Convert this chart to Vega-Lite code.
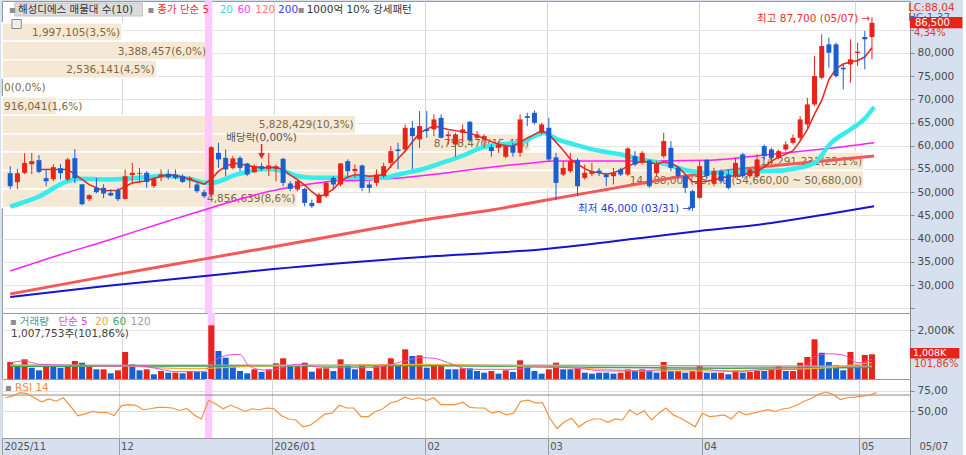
{
"$schema": "https://vega.github.io/schema/vega-lite/v6.json",
"padding": 0,
"background": "#d6e0ee",
"spacing": 0,
"bounds": "flush",
"config": {
  "view": {"fill": "white", "stroke": "#9a9a9a", "strokeWidth": 1},
  "text": {"font": "DejaVu Sans, Noto Sans CJK KR"},
  "axis": {"labelFont": "DejaVu Sans", "labelOverlap": false, "labelSeparation": 0}
},
"datasets": {
"d": [
{"i":0,"o":54100,"h":55600,"l":50650,"c":51300,"v":694,"u":1,"r":66.7},
{"i":1,"o":52160,"h":55000,"l":50650,"c":54100,"v":560,"u":0,"r":68.7},
{"i":2,"o":54170,"h":58400,"l":53900,"c":56320,"v":804,"u":1,"r":72.9},
{"i":3,"o":56040,"h":58480,"l":53880,"c":56690,"v":461,"u":0,"r":71.7},
{"i":4,"o":56900,"h":57980,"l":54100,"c":54380,"v":355,"u":0,"r":66.7},
{"i":5,"o":53020,"h":54960,"l":51300,"c":52370,"v":560,"u":1,"r":61.7},
{"i":6,"o":52800,"h":56040,"l":52370,"c":55400,"v":490,"u":0,"r":65.4},
{"i":7,"o":55180,"h":56040,"l":52800,"c":54100,"v":461,"u":0,"r":62.5},
{"i":8,"o":52740,"h":57400,"l":52370,"c":57060,"v":560,"u":1,"r":66.7},
{"i":9,"o":57340,"h":59280,"l":51940,"c":53020,"v":735,"u":1,"r":56.2},
{"i":10,"o":51700,"h":51790,"l":47190,"c":47410,"v":665,"u":0,"r":44.6},
{"i":11,"o":48490,"h":49570,"l":48060,"c":49350,"v":560,"u":1,"r":47.1},
{"i":12,"o":50930,"h":53090,"l":49780,"c":50000,"v":396,"u":0,"r":50},
{"i":13,"o":50930,"h":51730,"l":48710,"c":49720,"v":396,"u":1,"r":48.7},
{"i":14,"o":49850,"h":50650,"l":49140,"c":49290,"v":232,"u":0,"r":48.7},
{"i":15,"o":50430,"h":50930,"l":48060,"c":48490,"v":355,"u":1,"r":45},
{"i":16,"o":48550,"h":54900,"l":48420,"c":53450,"v":1102,"u":1,"r":57.1},
{"i":17,"o":53670,"h":56320,"l":52000,"c":54170,"v":600,"u":0,"r":58.3},
{"i":18,"o":53950,"h":55240,"l":52000,"c":54100,"v":355,"u":0,"r":57.5},
{"i":19,"o":54170,"h":54530,"l":50930,"c":52220,"v":396,"u":1,"r":52.1},
{"i":20,"o":51300,"h":53090,"l":50930,"c":52870,"v":192,"u":0,"r":53.3},
{"i":21,"o":53300,"h":54900,"l":52370,"c":53820,"v":326,"u":1,"r":55},
{"i":22,"o":53950,"h":54900,"l":52740,"c":53240,"v":258,"u":0,"r":55},
{"i":23,"o":53820,"h":54900,"l":52740,"c":53090,"v":258,"u":1,"r":54.2},
{"i":24,"o":53450,"h":53820,"l":52000,"c":52220,"v":232,"u":0,"r":51.2},
{"i":25,"o":52740,"h":53450,"l":50930,"c":53090,"v":326,"u":1,"r":53.7},
{"i":26,"o":51660,"h":52000,"l":49850,"c":50220,"v":290,"u":0,"r":45.8},
{"i":27,"o":50000,"h":50580,"l":48770,"c":49140,"v":290,"u":0,"r":40.8},
{"i":28,"o":49500,"h":59930,"l":49140,"c":59710,"v":2190,"u":1,"r":63.7},
{"i":29,"o":58480,"h":60640,"l":55240,"c":57060,"v":1142,"u":0,"r":59.2},
{"i":30,"o":57400,"h":59210,"l":53450,"c":54900,"v":870,"u":0,"r":53.3},
{"i":31,"o":55240,"h":57770,"l":54900,"c":57270,"v":490,"u":0,"r":57.5},
{"i":32,"o":57400,"h":57770,"l":54530,"c":55240,"v":326,"u":0,"r":54.2},
{"i":33,"o":56190,"h":56320,"l":53450,"c":53820,"v":232,"u":0,"r":50},
{"i":34,"o":54320,"h":55970,"l":54170,"c":55610,"v":396,"u":1,"r":53.3},
{"i":35,"o":55610,"h":56320,"l":54530,"c":55030,"v":290,"u":0,"r":52.1},
{"i":36,"o":55030,"h":58480,"l":53450,"c":55760,"v":396,"u":1,"r":54.2},
{"i":37,"o":55030,"h":55970,"l":52370,"c":55610,"v":640,"u":1,"r":53.3},
{"i":38,"o":57190,"h":57400,"l":51300,"c":52000,"v":845,"u":1,"r":45},
{"i":39,"o":51880,"h":52370,"l":50220,"c":50710,"v":530,"u":0,"r":40.8},
{"i":40,"o":50580,"h":52740,"l":50220,"c":52370,"v":560,"u":1,"r":39.6},
{"i":41,"o":50710,"h":50930,"l":46980,"c":47690,"v":665,"u":1,"r":31.2},
{"i":42,"o":47690,"h":48420,"l":46610,"c":46980,"v":300,"u":0,"r":33.3},
{"i":43,"o":47690,"h":49850,"l":47690,"c":49500,"v":437,"u":1,"r":39.6},
{"i":44,"o":49140,"h":52370,"l":48770,"c":52000,"v":437,"u":1,"r":46.7},
{"i":45,"o":53090,"h":53450,"l":50580,"c":51660,"v":326,"u":0,"r":47.9},
{"i":46,"o":51660,"h":56320,"l":51300,"c":56190,"v":804,"u":1,"r":57.5},
{"i":47,"o":56690,"h":57060,"l":53090,"c":54530,"v":600,"u":0,"r":54.2},
{"i":48,"o":54530,"h":55970,"l":53090,"c":55030,"v":396,"u":0,"r":54.2},
{"i":49,"o":55760,"h":55970,"l":50220,"c":50930,"v":600,"u":1,"r":43.7},
{"i":50,"o":51660,"h":52370,"l":49850,"c":50930,"v":326,"u":0,"r":43.7},
{"i":51,"o":52000,"h":54900,"l":51300,"c":53820,"v":560,"u":1,"r":50},
{"i":52,"o":53450,"h":56320,"l":53090,"c":55610,"v":600,"u":1,"r":53.3},
{"i":53,"o":56320,"h":59930,"l":55240,"c":58850,"v":845,"u":1,"r":60.4},
{"i":54,"o":59210,"h":60640,"l":55000,"c":58850,"v":530,"u":0,"r":62.5},
{"i":55,"o":59210,"h":64600,"l":58850,"c":63880,"v":1212,"u":1,"r":67.5},
{"i":56,"o":63880,"h":65320,"l":55000,"c":62090,"v":938,"u":0,"r":64.6},
{"i":57,"o":61380,"h":67480,"l":59570,"c":64250,"v":965,"u":1,"r":66.7},
{"i":58,"o":63530,"h":67480,"l":61720,"c":63160,"v":461,"u":0,"r":63.3},
{"i":59,"o":63530,"h":66770,"l":62090,"c":65690,"v":530,"u":1,"r":66.7},
{"i":60,"o":66030,"h":66770,"l":61580,"c":61720,"v":570,"u":1,"r":58.3},
{"i":61,"o":62090,"h":63160,"l":60290,"c":62450,"v":396,"u":0,"r":58.3},
{"i":62,"o":60290,"h":62800,"l":57640,"c":62450,"v":396,"u":0,"r":58.3},
{"i":63,"o":62800,"h":64600,"l":60640,"c":63530,"v":437,"u":1,"r":61.2},
{"i":64,"o":65170,"h":65320,"l":61010,"c":61160,"v":437,"u":0,"r":55},
{"i":65,"o":61720,"h":63160,"l":61380,"c":62450,"v":326,"u":0,"r":54.2},
{"i":66,"o":61380,"h":62450,"l":59570,"c":62090,"v":258,"u":0,"r":54.2},
{"i":67,"o":59710,"h":60290,"l":57640,"c":58850,"v":326,"u":1,"r":47.9},
{"i":68,"o":59570,"h":61010,"l":58490,"c":60290,"v":218,"u":0,"r":50},
{"i":69,"o":57640,"h":60290,"l":57270,"c":59930,"v":355,"u":1,"r":45.8},
{"i":70,"o":59930,"h":60640,"l":57640,"c":58490,"v":286,"u":0,"r":47.9},
{"i":71,"o":58490,"h":66770,"l":57640,"c":65690,"v":762,"u":1,"r":62.5},
{"i":72,"o":66400,"h":67110,"l":64240,"c":66030,"v":461,"u":0,"r":63.7},
{"i":73,"o":67110,"h":67620,"l":64600,"c":64960,"v":326,"u":0,"r":60.4},
{"i":74,"o":62800,"h":64960,"l":62450,"c":64600,"v":218,"u":0,"r":60.4},
{"i":75,"o":63880,"h":66030,"l":56690,"c":57060,"v":396,"u":1,"r":41.7},
{"i":76,"o":57500,"h":58480,"l":48270,"c":52000,"v":665,"u":1,"r":29.2},
{"i":77,"o":53820,"h":56690,"l":53450,"c":55240,"v":396,"u":0,"r":37.5},
{"i":78,"o":54530,"h":58480,"l":54170,"c":56690,"v":396,"u":0,"r":41.7},
{"i":79,"o":56970,"h":57320,"l":49140,"c":51300,"v":461,"u":1,"r":31.2},
{"i":80,"o":53090,"h":55970,"l":52740,"c":54170,"v":258,"u":0,"r":37.5},
{"i":81,"o":53950,"h":56320,"l":53450,"c":54530,"v":218,"u":0,"r":40.8},
{"i":82,"o":54680,"h":55240,"l":53450,"c":54170,"v":258,"u":0,"r":40.8},
{"i":83,"o":53820,"h":54170,"l":51300,"c":53240,"v":258,"u":0,"r":36.7},
{"i":84,"o":53450,"h":55240,"l":51660,"c":54170,"v":218,"u":0,"r":40.8},
{"i":85,"o":54900,"h":55240,"l":53450,"c":53820,"v":258,"u":1,"r":39.6},
{"i":86,"o":53820,"h":59710,"l":53450,"c":59430,"v":396,"u":1,"r":52.1},
{"i":87,"o":57770,"h":58850,"l":55610,"c":55970,"v":326,"u":0,"r":45.8},
{"i":88,"o":56320,"h":58850,"l":55970,"c":58480,"v":396,"u":1,"r":50.8},
{"i":89,"o":56840,"h":57060,"l":50930,"c":51300,"v":355,"u":0,"r":39.6},
{"i":90,"o":54100,"h":56690,"l":53450,"c":56040,"v":258,"u":0,"r":47.9},
{"i":91,"o":57770,"h":62800,"l":57400,"c":61010,"v":694,"u":1,"r":54.2},
{"i":92,"o":59570,"h":61010,"l":54530,"c":55240,"v":326,"u":0,"r":45.8},
{"i":93,"o":55240,"h":55610,"l":53090,"c":53450,"v":326,"u":1,"r":41.7},
{"i":94,"o":53450,"h":53820,"l":49850,"c":50930,"v":258,"u":0,"r":36.7},
{"i":95,"o":50220,"h":50580,"l":46000,"c":46610,"v":326,"u":1,"r":31.2},
{"i":96,"o":48770,"h":56690,"l":48640,"c":55610,"v":560,"u":1,"r":47.9},
{"i":97,"o":56970,"h":57060,"l":52740,"c":53450,"v":258,"u":0,"r":43.7},
{"i":98,"o":52000,"h":55240,"l":51300,"c":54530,"v":258,"u":0,"r":44.6},
{"i":99,"o":54530,"h":54900,"l":52000,"c":52370,"v":258,"u":1,"r":45.8},
{"i":100,"o":53820,"h":54900,"l":50580,"c":50930,"v":192,"u":0,"r":40.8},
{"i":101,"o":53450,"h":57400,"l":53090,"c":56320,"v":355,"u":1,"r":50},
{"i":102,"o":58140,"h":58480,"l":53090,"c":53450,"v":258,"u":0,"r":45.8},
{"i":103,"o":53450,"h":55240,"l":53090,"c":54900,"v":290,"u":1,"r":47.9},
{"i":104,"o":53450,"h":58140,"l":53090,"c":57060,"v":326,"u":1,"r":50},
{"i":105,"o":59930,"h":60290,"l":57060,"c":57770,"v":326,"u":0,"r":52.1},
{"i":106,"o":59210,"h":59570,"l":56690,"c":57400,"v":400,"u":1,"r":50},
{"i":107,"o":57400,"h":59210,"l":57060,"c":58850,"v":530,"u":1,"r":53},
{"i":108,"o":59210,"h":61010,"l":58850,"c":60290,"v":326,"u":0,"r":54.2},
{"i":109,"o":60640,"h":62450,"l":60290,"c":61720,"v":326,"u":1,"r":57.5},
{"i":110,"o":61720,"h":66400,"l":61010,"c":65690,"v":665,"u":1,"r":62.5},
{"i":111,"o":64600,"h":70350,"l":63880,"c":68920,"v":898,"u":1,"r":65.8},
{"i":112,"o":68920,"h":79350,"l":68560,"c":75030,"v":1620,"u":1,"r":70.8},
{"i":113,"o":74670,"h":84030,"l":74320,"c":81510,"v":1073,"u":0,"r":73.7},
{"i":114,"o":81870,"h":83310,"l":76830,"c":80070,"v":694,"u":0,"r":70.8},
{"i":115,"o":81870,"h":82230,"l":74670,"c":75030,"v":560,"u":0,"r":64.6},
{"i":116,"o":76830,"h":77550,"l":72160,"c":76480,"v":355,"u":0,"r":66.7},
{"i":117,"o":77550,"h":82950,"l":73590,"c":78630,"v":1102,"u":1,"r":67.5},
{"i":118,"o":80000,"h":82230,"l":77190,"c":80280,"v":560,"u":0,"r":68.7},
{"i":119,"o":83450,"h":84750,"l":76480,"c":82950,"v":980,"u":1,"r":70},
{"i":120,"o":83450,"h":87700,"l":78630,"c":86500,"v":1008,"u":1,"r":72.9}
],
"ma": [
{"k":"200","i":0,"p":27420},{"k":"200","i":13.3,"p":29790},{"k":"200","i":27.1,"p":31950},{"k":"200","i":36.7,"p":33450},{"k":"200","i":57.4,"p":36040},{"k":"200","i":74.6,"p":37760},{"k":"200","i":89,"p":40350},{"k":"200","i":96,"p":41640},{"k":"200","i":106,"p":43360},{"k":"200","i":113.9,"p":45300},{"k":"200","i":120.3,"p":46950},
{"k":"120","i":0,"p":28065},{"k":"120","i":13.3,"p":31858},{"k":"120","i":27.1,"p":35630},{"k":"120","i":40.9,"p":39420},{"k":"120","i":58.8,"p":44335},{"k":"120","i":67,"p":46166},{"k":"120","i":73.9,"p":48106},{"k":"120","i":83.2,"p":50628},{"k":"120","i":92.2,"p":53070},{"k":"120","i":101.5,"p":54940},{"k":"120","i":110.7,"p":56360},{"k":"120","i":120.3,"p":57800},
{"k":"60","i":0,"p":33021},{"k":"60","i":6.4,"p":36254},{"k":"60","i":13.3,"p":39486},{"k":"60","i":22,"p":43796},{"k":"60","i":28,"p":46662},{"k":"60","i":36.3,"p":50261},{"k":"60","i":40,"p":51339},{"k":"60","i":45.4,"p":52416},{"k":"60","i":50,"p":52632},{"k":"60","i":54.6,"p":53127},{"k":"60","i":59.2,"p":53860},{"k":"60","i":66,"p":55218},{"k":"60","i":73,"p":56360},{"k":"60","i":75.7,"p":56726},{"k":"60","i":87.7,"p":56726},{"k":"60","i":96.9,"p":56877},{"k":"60","i":106,"p":58170},{"k":"60","i":112.9,"p":59248},{"k":"60","i":120.3,"p":60670},
{"k":"20","i":0,"p":46870},{"k":"20","i":2.3,"p":48060},{"k":"20","i":4.1,"p":49140},{"k":"20","i":5.1,"p":50000},{"k":"20","i":7.4,"p":52010},{"k":"20","i":9.6,"p":52910},{"k":"20","i":13.3,"p":52740},{"k":"20","i":17.9,"p":53090},{"k":"20","i":21.6,"p":53560},{"k":"20","i":25.3,"p":52740},{"k":"20","i":27.1,"p":52010},{"k":"20","i":28.2,"p":52050},{"k":"20","i":31.6,"p":53850},{"k":"20","i":35.4,"p":55000},{"k":"20","i":38.1,"p":54570},{"k":"20","i":39.9,"p":53490},{"k":"20","i":42.2,"p":53130},{"k":"20","i":48.6,"p":53130},{"k":"20","i":51.9,"p":53130},{"k":"20","i":54.6,"p":54030},{"k":"20","i":57.4,"p":54940},{"k":"20","i":60.2,"p":56360},{"k":"20","i":62.9,"p":57800},{"k":"20","i":65.7,"p":59590},{"k":"20","i":68.4,"p":60320},{"k":"20","i":71.2,"p":60670},{"k":"20","i":73,"p":62110},{"k":"20","i":74.3,"p":62760},{"k":"20","i":76.2,"p":61400},{"k":"20","i":78.5,"p":60320},{"k":"20","i":82.2,"p":58880},{"k":"20","i":84.9,"p":58170},{"k":"20","i":87.7,"p":57090},{"k":"20","i":91.4,"p":56010},{"k":"20","i":94.6,"p":54570},{"k":"20","i":96.9,"p":54210},{"k":"20","i":99.6,"p":54210},{"k":"20","i":103.3,"p":54570},{"k":"20","i":106,"p":54570},{"k":"20","i":109.7,"p":55220},{"k":"20","i":112,"p":56300},{"k":"20","i":114.3,"p":60600},{"k":"20","i":117.1,"p":63620},{"k":"20","i":118.9,"p":65710},{"k":"20","i":120.3,"p":68360},
{"k":"5","i":4,"p":54900},{"k":"5","i":8,"p":54900},{"k":"5","i":9,"p":53820},{"k":"5","i":11,"p":51620},{"k":"5","i":13,"p":50320},{"k":"5","i":15,"p":50430},{"k":"5","i":16,"p":51190},{"k":"5","i":17,"p":52000},{"k":"5","i":19,"p":52480},{"k":"5","i":20,"p":53020},{"k":"5","i":22,"p":53780},{"k":"5","i":23,"p":53670},{"k":"5","i":25,"p":52800},{"k":"5","i":27,"p":51730},{"k":"5","i":28,"p":52800},{"k":"5","i":29,"p":54530},{"k":"5","i":30,"p":55500},{"k":"5","i":31,"p":56260},{"k":"5","i":32,"p":56150},{"k":"5","i":33,"p":55720},{"k":"5","i":35,"p":55290},{"k":"5","i":37,"p":55400},{"k":"5","i":38,"p":54900},{"k":"5","i":39,"p":53670},{"k":"5","i":40,"p":52700},{"k":"5","i":41,"p":51510},{"k":"5","i":42,"p":50110},{"k":"5","i":43,"p":48920},{"k":"5","i":44,"p":49680},{"k":"5","i":45,"p":50650},{"k":"5","i":46,"p":52370},{"k":"5","i":47,"p":53240},{"k":"5","i":48,"p":53780},{"k":"5","i":49,"p":53670},{"k":"5","i":50,"p":53450},{"k":"5","i":51,"p":53560},{"k":"5","i":52,"p":53820},{"k":"5","i":53,"p":55610},{"k":"5","i":54,"p":57230},{"k":"5","i":55,"p":58850},{"k":"5","i":56,"p":60800},{"k":"5","i":57,"p":62740},{"k":"5","i":58,"p":63600},{"k":"5","i":59,"p":64240},{"k":"5","i":60,"p":63920},{"k":"5","i":61,"p":63530},{"k":"5","i":62,"p":63270},{"k":"5","i":63,"p":63050},{"k":"5","i":64,"p":62730},{"k":"5","i":65,"p":62190},{"k":"5","i":66,"p":61550},{"k":"5","i":67,"p":60900},{"k":"5","i":68,"p":60360},{"k":"5","i":69,"p":60030},{"k":"5","i":70,"p":59930},{"k":"5","i":71,"p":60790},{"k":"5","i":72,"p":61660},{"k":"5","i":73,"p":62450},{"k":"5","i":74,"p":63270},{"k":"5","i":75,"p":62450},{"k":"5","i":76,"p":60790},{"k":"5","i":77,"p":59060},{"k":"5","i":78,"p":57120},{"k":"5","i":79,"p":56040},{"k":"5","i":80,"p":55070},{"k":"5","i":81,"p":54420},{"k":"5","i":82,"p":54170},{"k":"5","i":83,"p":53880},{"k":"5","i":84,"p":54210},{"k":"5","i":85,"p":54750},{"k":"5","i":86,"p":55610},{"k":"5","i":87,"p":56260},{"k":"5","i":88,"p":56690},{"k":"5","i":89,"p":56470},{"k":"5","i":90,"p":56040},{"k":"5","i":91,"p":56580},{"k":"5","i":92,"p":56260},{"k":"5","i":93,"p":55400},{"k":"5","i":94,"p":53880},{"k":"5","i":95,"p":52270},{"k":"5","i":96,"p":52270},{"k":"5","i":97,"p":52370},{"k":"5","i":98,"p":52700},{"k":"5","i":99,"p":53020},{"k":"5","i":100,"p":53450},{"k":"5","i":101,"p":53560},{"k":"5","i":102,"p":53820},{"k":"5","i":103,"p":54100},{"k":"5","i":104,"p":54530},{"k":"5","i":105,"p":55400},{"k":"5","i":106,"p":56690},{"k":"5","i":107,"p":57550},{"k":"5","i":108,"p":58200},{"k":"5","i":109,"p":58960},{"k":"5","i":110,"p":61010},{"k":"5","i":111,"p":63490},{"k":"5","i":112,"p":66830},{"k":"5","i":113,"p":69770},{"k":"5","i":114,"p":74280},{"k":"5","i":115,"p":76650},{"k":"5","i":116,"p":77620},{"k":"5","i":117,"p":78050},{"k":"5","i":118,"p":78380},{"k":"5","i":119,"p":79130},{"k":"5","i":120,"p":81140}
],
"vma": [
{"k":"120","i":0,"v":560},{"k":"120","i":60,"v":560},{"k":"120","i":120,"v":520},
{"k":"60","i":0,"v":520},{"k":"60","i":30,"v":530},{"k":"60","i":60,"v":540},{"k":"60","i":80,"v":480},{"k":"60","i":100,"v":440},{"k":"60","i":120,"v":470},
{"k":"20","i":0,"v":571},{"k":"20","i":15,"v":530},{"k":"20","i":25,"v":420},{"k":"20","i":35,"v":530},{"k":"20","i":45,"v":560},{"k":"20","i":58,"v":600},{"k":"20","i":65,"v":571},{"k":"20","i":72,"v":530},{"k":"20","i":80,"v":430},{"k":"20","i":90,"v":326},{"k":"20","i":100,"v":330},{"k":"20","i":106,"v":396},{"k":"20","i":112,"v":430},{"k":"20","i":116,"v":530},{"k":"20","i":120,"v":665},
{"k":"5","i":0,"v":665},{"k":"5","i":2,"v":734},{"k":"5","i":4,"v":600},{"k":"5","i":9,"v":560},{"k":"5","i":13,"v":530},{"k":"5","i":18,"v":530},{"k":"5","i":21,"v":396},{"k":"5","i":23,"v":300},{"k":"5","i":27,"v":300},{"k":"5","i":28,"v":666},{"k":"5","i":29,"v":848},{"k":"5","i":30,"v":956},{"k":"5","i":31,"v":996},{"k":"5","i":32,"v":1004},{"k":"5","i":33,"v":612},{"k":"5","i":34,"v":430},{"k":"5","i":36,"v":355},{"k":"5","i":40,"v":600},{"k":"5","i":43,"v":490},{"k":"5","i":45,"v":461},{"k":"5","i":50,"v":461},{"k":"5","i":55,"v":735},{"k":"5","i":57,"v":870},{"k":"5","i":59,"v":845},{"k":"5","i":61,"v":665},{"k":"5","i":64,"v":396},{"k":"5","i":70,"v":396},{"k":"5","i":73,"v":490},{"k":"5","i":78,"v":461},{"k":"5","i":83,"v":326},{"k":"5","i":87,"v":326},{"k":"5","i":92,"v":396},{"k":"5","i":96,"v":396},{"k":"5","i":101,"v":300},{"k":"5","i":106,"v":396},{"k":"5","i":110,"v":396},{"k":"5","i":111,"v":600},{"k":"5","i":112,"v":900},{"k":"5","i":113,"v":1000},{"k":"5","i":114,"v":1032},{"k":"5","i":116,"v":980},{"k":"5","i":117,"v":804},{"k":"5","i":118,"v":665},{"k":"5","i":120,"v":804}
],
"vp": [
{"lo":82520,"hi":86500,"mid":84510,"pct":3.5,"t":"1,997,105(3,5%)"},
{"lo":78540,"hi":82520,"mid":80530,"pct":6.0,"t":"3,388,457(6,0%)"},
{"lo":74560,"hi":78540,"mid":76550,"pct":4.5,"t":"2,536,141(4,5%)"},
{"lo":70580,"hi":74560,"mid":72570,"pct":0,"t":"0(0,0%)"},
{"lo":66600,"hi":70580,"mid":68590,"pct":1.6,"t":"916,041(1,6%)"},
{"lo":62620,"hi":66600,"mid":64610,"pct":10.3,"t":"5,828,429(10,3%)"},
{"lo":58640,"hi":62620,"mid":60630,"pct":15.4,"t":"8,758,470(15,4%)"},
{"lo":54660,"hi":58640,"mid":56650,"pct":25.1,"t":"14,291,231(25,1%)"},
{"lo":50680,"hi":54660,"mid":52670,"pct":25.1,"t":"14,288,007(25,1%)(54,660,00 ~ 50,680,00)"},
{"lo":46700,"hi":50680,"mid":48690,"pct":8.6,"t":"4,856,639(8,6%)"}
]
},
"vconcat": [
{
 "width": 908, "height": 312,
 "resolve": {"scale": {"x": "independent"}},
 "layer": [
  {"data": {"name": "vp"}, "transform": [{"filter": "datum.pct > 0"}],
   "mark": {"type": "rect", "fill": "#f5e8d5", "stroke": "white", "strokeWidth": 1.5},
   "encoding": {
     "x": {"field": "pct", "type": "quantitative", "scale": {"domain": [0, 26.44], "nice": false, "zero": true}, "axis": null},
     "x2": {"datum": 0},
     "y": {"field": "hi", "type": "quantitative", "scale": {"domain": [23966, 91206], "nice": false, "zero": false},
           "axis": {"orient": "right", "values": [25000,30000,35000,40000,45000,50000,55000,60000,65000,70000,75000,80000,85000],
             "tickCount": 13,
             "labelExpr": "datum.value < 28000 || datum.value > 82000 ? '' : format(datum.value, ',')",
             "grid": true, "gridColor": "#e4e4e4", "tickSize": 4, "tickColor": "#8a8a8a", "domainColor": "#8a8a8a",
             "labelColor": "#4a4a4a", "labelFontSize": 10.5, "labelPadding": 3, "labelOverlap": false, "labelSeparation": 0, "labelFlush": false, "title": null}},
     "y2": {"field": "lo"}
   }},
  {"data": {"values": [{}]}, "mark": {"type": "rect", "fill": "#ffc8ff"},
   "encoding": {"x": {"datum": 27.5, "type": "quantitative", "scale": {"domain": [-0.45, 124.6], "nice": false, "zero": false}, "axis": null}, "x2": {"datum": 28.5}}},
  {
   "data": {"name": "vp"},
   "layer": [
    {"transform": [{"filter": "datum.pct >= 2.5"}],
     "mark": {"type": "text", "align": "right", "baseline": "middle", "dx": -2, "dy": 1, "fontSize": 10.5, "color": "#7d6a44"},
     "encoding": {
       "x": {"field": "pct", "type": "quantitative", "scale": {"domain": [0, 26.44], "nice": false, "zero": true}, "axis": null},
       "y": {"field": "mid", "type": "quantitative", "scale": {"domain": [23966, 91206], "nice": false, "zero": false}},
       "text": {"field": "t"}
     }},
    {"transform": [{"filter": "datum.pct < 2.5"}],
     "mark": {"type": "text", "align": "left", "baseline": "middle", "dx": 2, "dy": 1, "fontSize": 10.5, "color": "#7d6a44"},
     "encoding": {
       "x": {"datum": 0, "type": "quantitative", "scale": {"domain": [0, 26.44], "nice": false, "zero": true}, "axis": null},
       "y": {"field": "mid", "type": "quantitative", "scale": {"domain": [23966, 91206], "nice": false, "zero": false}},
       "text": {"field": "t"}
     }}
   ]
  },
  {
   "layer": [
    {"data": {"name": "ma"}, "transform": [{"filter": "datum.k == '200'"}],
     "mark": {"type": "line", "color": "#1414d2", "strokeWidth": 2, "interpolate": "monotone"},
     "encoding": {"x": {"field": "i", "type": "quantitative", "scale": {"domain": [-0.45, 124.6], "nice": false, "zero": false},
             "axis": {"values": [15.6, 36.7, 57.8, 74.7, 95.9, 117.6], "tickCount": 6, "grid": true, "gridColor": "#d4d4d4", "labels": false, "ticks": false, "domain": false, "title": null}},
       "y": {"field": "p", "type": "quantitative", "scale": {"domain": [23966, 91206], "nice": false, "zero": false}}}},
    {"data": {"name": "ma"}, "transform": [{"filter": "datum.k == '120'"}],
     "mark": {"type": "line", "color": "#f45858", "strokeWidth": 3, "interpolate": "monotone"},
     "encoding": {"x": {"field": "i", "type": "quantitative", "scale": {"domain": [-0.45, 124.6], "nice": false, "zero": false}},
       "y": {"field": "p", "type": "quantitative", "scale": {"domain": [23966, 91206], "nice": false, "zero": false}}}},
    {"data": {"name": "ma"}, "transform": [{"filter": "datum.k == '60'"}],
     "mark": {"type": "line", "color": "#ff1eff", "strokeWidth": 1.5, "interpolate": "monotone"},
     "encoding": {"x": {"field": "i", "type": "quantitative", "scale": {"domain": [-0.45, 124.6], "nice": false, "zero": false}},
       "y": {"field": "p", "type": "quantitative", "scale": {"domain": [23966, 91206], "nice": false, "zero": false}}}},
    {"data": {"name": "ma"}, "transform": [{"filter": "datum.k == '20'"}],
     "mark": {"type": "line", "color": "#36ecec", "strokeWidth": 4.5, "interpolate": "monotone"},
     "encoding": {"x": {"field": "i", "type": "quantitative", "scale": {"domain": [-0.45, 124.6], "nice": false, "zero": false}},
       "y": {"field": "p", "type": "quantitative", "scale": {"domain": [23966, 91206], "nice": false, "zero": false}}}},
    {"data": {"name": "ma"}, "transform": [{"filter": "datum.k == '5'"}],
     "mark": {"type": "line", "color": "#e8231a", "strokeWidth": 1.5},
     "encoding": {"x": {"field": "i", "type": "quantitative", "scale": {"domain": [-0.45, 124.6], "nice": false, "zero": false}},
       "y": {"field": "p", "type": "quantitative", "scale": {"domain": [23966, 91206], "nice": false, "zero": false}}}},
    {"data": {"name": "d"},
     "mark": {"type": "rule", "strokeWidth": 1},
     "encoding": {
       "x": {"field": "i", "type": "quantitative", "scale": {"domain": [-0.45, 124.6], "nice": false, "zero": false}},
       "y": {"field": "l", "type": "quantitative", "scale": {"domain": [23966, 91206], "nice": false, "zero": false}},
       "y2": {"field": "h"},
       "color": {"condition": {"test": "datum.c >= datum.o", "value": "#e8231a"}, "value": "#1a5fd0"}
     }},
    {"data": {"name": "d"},
     "mark": {"type": "bar", "width": 5},
     "encoding": {
       "x": {"field": "i", "type": "quantitative", "scale": {"domain": [-0.45, 124.6], "nice": false, "zero": false}},
       "y": {"field": "o", "type": "quantitative", "scale": {"domain": [23966, 91206], "nice": false, "zero": false}},
       "y2": {"field": "c"},
       "color": {"condition": {"test": "datum.c >= datum.o", "value": "#e8231a"}, "value": "#1a5fd0"}
     }},
    {"data": {"values": [{}]}, "mark": {"type": "rect", "fill": "#dcdcdc", "stroke": "#c2c2c2", "strokeWidth": 1},
     "encoding": {"x": {"datum": 0.65, "type": "quantitative", "scale": {"domain": [-0.45, 124.6], "nice": false, "zero": false}}, "x2": {"datum": 18.42},
       "y": {"datum": 90775, "type": "quantitative", "scale": {"domain": [23966, 91206], "nice": false, "zero": false}}, "y2": {"datum": 87974}}},
    {"data": {"values": [{}]}, "mark": {"type": "rect", "fill": "#eeeeee", "stroke": "#8a8a8a", "strokeWidth": 1},
     "encoding": {"x": {"datum": 0.23, "type": "quantitative", "scale": {"domain": [-0.45, 124.6], "nice": false, "zero": false}}, "x2": {"datum": 1.54},
       "y": {"datum": 87219, "type": "quantitative", "scale": {"domain": [23966, 91206], "nice": false, "zero": false}}, "y2": {"datum": 85280}}},
    {"data": {"values": [{}]}, "mark": {"type": "text", "text": "▪", "align": "left", "baseline": "middle", "fontSize": 10, "color": "#8c8c8c"},
     "encoding": {"x": {"datum": -0.17, "type": "quantitative", "scale": {"domain": [-0.45, 124.6], "nice": false, "zero": false}},
       "y": {"datum": 89374, "type": "quantitative", "scale": {"domain": [23966, 91206], "nice": false, "zero": false}}}},
    {"data": {"values": [{}]}, "mark": {"type": "text", "text": "해성디에스 매물대 수(10)", "align": "left", "baseline": "middle", "fontSize": 10.5, "color": "#333333"},
     "encoding": {"x": {"datum": 1.07, "type": "quantitative", "scale": {"domain": [-0.45, 124.6], "nice": false, "zero": false}},
       "y": {"datum": 89374, "type": "quantitative", "scale": {"domain": [23966, 91206], "nice": false, "zero": false}}}},
    {"data": {"values": [{}]}, "mark": {"type": "text", "text": "▪", "align": "left", "baseline": "middle", "fontSize": 10, "color": "#8c8c8c"},
     "encoding": {"x": {"datum": 19.1, "type": "quantitative", "scale": {"domain": [-0.45, 124.6], "nice": false, "zero": false}},
       "y": {"datum": 89374, "type": "quantitative", "scale": {"domain": [23966, 91206], "nice": false, "zero": false}}}},
    {"data": {"values": [{}]}, "mark": {"type": "text", "text": "종가 단순 5", "align": "left", "baseline": "middle", "fontSize": 10.5, "color": "#f03030"},
     "encoding": {"x": {"datum": 20.48, "type": "quantitative", "scale": {"domain": [-0.45, 124.6], "nice": false, "zero": false}},
       "y": {"datum": 89374, "type": "quantitative", "scale": {"domain": [23966, 91206], "nice": false, "zero": false}}}},
    {"data": {"values": [{}]}, "mark": {"type": "text", "text": "20", "align": "left", "baseline": "middle", "fontSize": 10.5, "color": "#35e0e0"},
     "encoding": {"x": {"datum": 29.16, "type": "quantitative", "scale": {"domain": [-0.45, 124.6], "nice": false, "zero": false}},
       "y": {"datum": 89374, "type": "quantitative", "scale": {"domain": [23966, 91206], "nice": false, "zero": false}}}},
    {"data": {"values": [{}]}, "mark": {"type": "text", "text": "60", "align": "left", "baseline": "middle", "fontSize": 10.5, "color": "#ff40ff"},
     "encoding": {"x": {"datum": 31.64, "type": "quantitative", "scale": {"domain": [-0.45, 124.6], "nice": false, "zero": false}},
       "y": {"datum": 89374, "type": "quantitative", "scale": {"domain": [23966, 91206], "nice": false, "zero": false}}}},
    {"data": {"values": [{}]}, "mark": {"type": "text", "text": "120", "align": "left", "baseline": "middle", "fontSize": 10.5, "color": "#ff7878"},
     "encoding": {"x": {"datum": 34.12, "type": "quantitative", "scale": {"domain": [-0.45, 124.6], "nice": false, "zero": false}},
       "y": {"datum": 89374, "type": "quantitative", "scale": {"domain": [23966, 91206], "nice": false, "zero": false}}}},
    {"data": {"values": [{}]}, "mark": {"type": "text", "text": "200", "align": "left", "baseline": "middle", "fontSize": 10.5, "color": "#3838ff"},
     "encoding": {"x": {"datum": 37.29, "type": "quantitative", "scale": {"domain": [-0.45, 124.6], "nice": false, "zero": false}},
       "y": {"datum": 89374, "type": "quantitative", "scale": {"domain": [23966, 91206], "nice": false, "zero": false}}}},
    {"data": {"values": [{}]}, "mark": {"type": "text", "text": "▪", "align": "left", "baseline": "middle", "fontSize": 10, "color": "#8c8c8c"},
     "encoding": {"x": {"datum": 40.04, "type": "quantitative", "scale": {"domain": [-0.45, 124.6], "nice": false, "zero": false}},
       "y": {"datum": 89374, "type": "quantitative", "scale": {"domain": [23966, 91206], "nice": false, "zero": false}}}},
    {"data": {"values": [{}]}, "mark": {"type": "text", "text": "1000억 10% 강세패턴", "align": "left", "baseline": "middle", "fontSize": 10.5, "color": "#333333"},
     "encoding": {"x": {"datum": 41.28, "type": "quantitative", "scale": {"domain": [-0.45, 124.6], "nice": false, "zero": false}},
       "y": {"datum": 89374, "type": "quantitative", "scale": {"domain": [23966, 91206], "nice": false, "zero": false}}}},
    {"data": {"values": [{}]}, "mark": {"type": "text", "text": "배당락(0,00%)", "align": "center", "baseline": "middle", "fontSize": 10.5, "color": "#555555"},
     "encoding": {"x": {"datum": 35, "type": "quantitative", "scale": {"domain": [-0.45, 124.6], "nice": false, "zero": false}},
       "y": {"datum": 61747, "type": "quantitative", "scale": {"domain": [23966, 91206], "nice": false, "zero": false}}}},
    {"data": {"values": [{}]}, "mark": {"type": "rule", "color": "#e8231a", "strokeWidth": 1.5},
     "encoding": {"x": {"datum": 35, "type": "quantitative", "scale": {"domain": [-0.45, 124.6], "nice": false, "zero": false}},
       "y": {"datum": 60390, "type": "quantitative", "scale": {"domain": [23966, 91206], "nice": false, "zero": false}}, "y2": {"datum": 58450}}},
    {"data": {"values": [{}]}, "mark": {"type": "point", "shape": "triangle-down", "filled": true, "size": 45, "color": "#e8231a", "opacity": 1},
     "encoding": {"x": {"datum": 35, "type": "quantitative", "scale": {"domain": [-0.45, 124.6], "nice": false, "zero": false}},
       "y": {"datum": 57803, "type": "quantitative", "scale": {"domain": [23966, 91206], "nice": false, "zero": false}}}},
    {"data": {"values": [{}]}, "mark": {"type": "text", "text": "최고 87,700 (05/07) →", "align": "right", "baseline": "middle", "fontSize": 10.5, "color": "#e83030"},
     "encoding": {"x": {"datum": 119.78, "type": "quantitative", "scale": {"domain": [-0.45, 124.6], "nice": false, "zero": false}},
       "y": {"datum": 87270, "type": "quantitative", "scale": {"domain": [23966, 91206], "nice": false, "zero": false}}}},
    {"data": {"values": [{}]}, "mark": {"type": "text", "text": "최저 46,000 (03/31) →", "align": "right", "baseline": "middle", "fontSize": 10.5, "color": "#1e3cdc"},
     "encoding": {"x": {"datum": 94.85, "type": "quantitative", "scale": {"domain": [-0.45, 124.6], "nice": false, "zero": false}},
       "y": {"datum": 46318, "type": "quantitative", "scale": {"domain": [23966, 91206], "nice": false, "zero": false}}}},
    {"data": {"values": [{}]}, "mark": {"type": "text", "text": "LC:88,04", "align": "left", "baseline": "middle", "fontSize": 10.5, "color": "#e03a2a"},
     "encoding": {"x": {"datum": 125.01, "type": "quantitative", "scale": {"domain": [-0.45, 124.6], "nice": false, "zero": false}},
       "y": {"datum": 89762, "type": "quantitative", "scale": {"domain": [23966, 91206], "nice": false, "zero": false}}}},
    {"data": {"values": [{}]}, "mark": {"type": "text", "text": "HC:1,37", "align": "left", "baseline": "middle", "fontSize": 10.5, "color": "#3a6ad0"},
     "encoding": {"x": {"datum": 125.01, "type": "quantitative", "scale": {"domain": [-0.45, 124.6], "nice": false, "zero": false}},
       "y": {"datum": 87540, "type": "quantitative", "scale": {"domain": [23966, 91206], "nice": false, "zero": false}}}},
    {"data": {"values": [{}]}, "mark": {"type": "rect", "fill": "#e8231a"},
     "encoding": {"x": {"datum": 125.29, "type": "quantitative", "scale": {"domain": [-0.45, 124.6], "nice": false, "zero": false}}, "x2": {"datum": 132.59},
       "y": {"datum": 87758, "type": "quantitative", "scale": {"domain": [23966, 91206], "nice": false, "zero": false}}, "y2": {"datum": 85323}}},
    {"data": {"values": [{}]}, "mark": {"type": "text", "text": "86,500", "align": "left", "baseline": "middle", "fontSize": 10, "color": "white"},
     "encoding": {"x": {"datum": 125.98, "type": "quantitative", "scale": {"domain": [-0.45, 124.6], "nice": false, "zero": false}},
       "y": {"datum": 86540, "type": "quantitative", "scale": {"domain": [23966, 91206], "nice": false, "zero": false}}}},
    {"data": {"values": [{}]}, "mark": {"type": "text", "text": "4,34%", "align": "left", "baseline": "middle", "fontSize": 10, "color": "#e03a2a"},
     "encoding": {"x": {"datum": 125.84, "type": "quantitative", "scale": {"domain": [-0.45, 124.6], "nice": false, "zero": false}},
       "y": {"datum": 84202, "type": "quantitative", "scale": {"domain": [23966, 91206], "nice": false, "zero": false}}}}
   ]
  }
 ]
},
{
 "width": 908, "height": 66,
 "layer": [
  {"data": {"values": [{}]}, "mark": {"type": "rect", "fill": "#ffc8ff"},
   "encoding": {"x": {"datum": 27.5, "type": "quantitative", "scale": {"domain": [-0.45, 124.6], "nice": false, "zero": false}}, "x2": {"datum": 28.5}}},
  {"data": {"name": "d"},
   "mark": {"type": "bar", "width": 6},
   "encoding": {
     "x": {"field": "i", "type": "quantitative", "scale": {"domain": [-0.45, 124.6], "nice": false, "zero": false},
           "axis": {"values": [15.6, 36.7, 57.8, 74.7, 95.9, 117.6], "tickCount": 6, "grid": true, "gridColor": "#d4d4d4", "labels": false, "ticks": false, "domain": false, "title": null}},
     "y": {"field": "v", "type": "quantitative", "scale": {"domain": [0, 2694], "nice": false, "zero": true},
           "axis": {"orient": "right", "values": [2000], "labelExpr": "format(datum.value, ',') + 'K'", "grid": true, "gridColor": "#e4e4e4",
             "tickSize": 4, "tickColor": "#8a8a8a", "domainColor": "#8a8a8a", "labelColor": "#4a4a4a", "labelFontSize": 10.5, "labelPadding": 3, "title": null}},
     "color": {"condition": {"test": "datum.u == 1", "value": "#e8231a"}, "value": "#1a5fd0"}
   }},
  {"data": {"name": "vma"}, "transform": [{"filter": "datum.k == '120'"}],
   "mark": {"type": "line", "color": "#a8a8a8", "strokeWidth": 1.5, "interpolate": "monotone"},
   "encoding": {"x": {"field": "i", "type": "quantitative", "scale": {"domain": [-0.45, 124.6], "nice": false, "zero": false}},
     "y": {"field": "v", "type": "quantitative", "scale": {"domain": [0, 2694], "nice": false, "zero": true}}}},
  {"data": {"name": "vma"}, "transform": [{"filter": "datum.k == '60'"}],
   "mark": {"type": "line", "color": "#3aa85a", "strokeWidth": 1.5, "interpolate": "monotone"},
   "encoding": {"x": {"field": "i", "type": "quantitative", "scale": {"domain": [-0.45, 124.6], "nice": false, "zero": false}},
     "y": {"field": "v", "type": "quantitative", "scale": {"domain": [0, 2694], "nice": false, "zero": true}}}},
  {"data": {"name": "vma"}, "transform": [{"filter": "datum.k == '20'"}],
   "mark": {"type": "line", "color": "#f0b030", "strokeWidth": 1.2, "interpolate": "monotone"},
   "encoding": {"x": {"field": "i", "type": "quantitative", "scale": {"domain": [-0.45, 124.6], "nice": false, "zero": false}},
     "y": {"field": "v", "type": "quantitative", "scale": {"domain": [0, 2694], "nice": false, "zero": true}}}},
  {"data": {"name": "vma"}, "transform": [{"filter": "datum.k == '5'"}],
   "mark": {"type": "line", "color": "#e84ed8", "strokeWidth": 1, "interpolate": "monotone"},
   "encoding": {"x": {"field": "i", "type": "quantitative", "scale": {"domain": [-0.45, 124.6], "nice": false, "zero": false}},
     "y": {"field": "v", "type": "quantitative", "scale": {"domain": [0, 2694], "nice": false, "zero": true}}}},
  {"data": {"values": [{}]}, "mark": {"type": "text", "text": "▪", "align": "left", "baseline": "middle", "fontSize": 10, "color": "#8c8c8c"},
   "encoding": {"x": {"datum": -0.04, "type": "quantitative", "scale": {"domain": [-0.45, 124.6], "nice": false, "zero": false}},
     "y": {"datum": 2339, "type": "quantitative", "scale": {"domain": [0, 2694], "nice": false, "zero": true}}}},
  {"data": {"values": [{}]}, "mark": {"type": "text", "text": "거래량", "align": "left", "baseline": "middle", "fontSize": 10.5, "color": "#3a9e9e"},
   "encoding": {"x": {"datum": 1.34, "type": "quantitative", "scale": {"domain": [-0.45, 124.6], "nice": false, "zero": false}},
     "y": {"datum": 2339, "type": "quantitative", "scale": {"domain": [0, 2694], "nice": false, "zero": true}}}},
  {"data": {"values": [{}]}, "mark": {"type": "text", "text": "단순 5", "align": "left", "baseline": "middle", "fontSize": 10.5, "color": "#e048d8"},
   "encoding": {"x": {"datum": 6.71, "type": "quantitative", "scale": {"domain": [-0.45, 124.6], "nice": false, "zero": false}},
     "y": {"datum": 2339, "type": "quantitative", "scale": {"domain": [0, 2694], "nice": false, "zero": true}}}},
  {"data": {"values": [{}]}, "mark": {"type": "text", "text": "20", "align": "left", "baseline": "middle", "fontSize": 10.5, "color": "#f0a830"},
   "encoding": {"x": {"datum": 11.81, "type": "quantitative", "scale": {"domain": [-0.45, 124.6], "nice": false, "zero": false}},
     "y": {"datum": 2339, "type": "quantitative", "scale": {"domain": [0, 2694], "nice": false, "zero": true}}}},
  {"data": {"values": [{}]}, "mark": {"type": "text", "text": "60", "align": "left", "baseline": "middle", "fontSize": 10.5, "color": "#3aa85a"},
   "encoding": {"x": {"datum": 14.29, "type": "quantitative", "scale": {"domain": [-0.45, 124.6], "nice": false, "zero": false}},
     "y": {"datum": 2339, "type": "quantitative", "scale": {"domain": [0, 2694], "nice": false, "zero": true}}}},
  {"data": {"values": [{}]}, "mark": {"type": "text", "text": "120", "align": "left", "baseline": "middle", "fontSize": 10.5, "color": "#a0a0a0"},
   "encoding": {"x": {"datum": 16.76, "type": "quantitative", "scale": {"domain": [-0.45, 124.6], "nice": false, "zero": false}},
     "y": {"datum": 2339, "type": "quantitative", "scale": {"domain": [0, 2694], "nice": false, "zero": true}}}},
  {"data": {"values": [{}]}, "mark": {"type": "text", "text": "1,007,753주(101,86%)", "align": "left", "baseline": "middle", "fontSize": 10.5, "color": "#444444"},
   "encoding": {"x": {"datum": 0.1, "type": "quantitative", "scale": {"domain": [-0.45, 124.6], "nice": false, "zero": false}},
     "y": {"datum": 1857, "type": "quantitative", "scale": {"domain": [0, 2694], "nice": false, "zero": true}}}},
  {"data": {"values": [{}]}, "mark": {"type": "rect", "fill": "#e8231a"},
   "encoding": {"x": {"datum": 125.29, "type": "quantitative", "scale": {"domain": [-0.45, 124.6], "nice": false, "zero": false}}, "x2": {"datum": 132.17},
     "y": {"datum": 1265, "type": "quantitative", "scale": {"domain": [0, 2694], "nice": false, "zero": true}}, "y2": {"datum": 837}}},
  {"data": {"values": [{}]}, "mark": {"type": "text", "text": "1,008K", "align": "left", "baseline": "middle", "fontSize": 9.5, "color": "white"},
   "encoding": {"x": {"datum": 125.7, "type": "quantitative", "scale": {"domain": [-0.45, 124.6], "nice": false, "zero": false}},
     "y": {"datum": 1053, "type": "quantitative", "scale": {"domain": [0, 2694], "nice": false, "zero": true}}}},
  {"data": {"values": [{}]}, "mark": {"type": "text", "text": "101,86%", "align": "left", "baseline": "middle", "fontSize": 10, "color": "#e03a2a"},
   "encoding": {"x": {"datum": 125.84, "type": "quantitative", "scale": {"domain": [-0.45, 124.6], "nice": false, "zero": false}},
     "y": {"datum": 600, "type": "quantitative", "scale": {"domain": [0, 2694], "nice": false, "zero": true}}}}
 ]
},
{
 "width": 908, "height": 59,
 "layer": [
  {"data": {"values": [{}]}, "mark": {"type": "rect", "fill": "#ffc8ff"},
   "encoding": {"x": {"datum": 27.5, "type": "quantitative", "scale": {"domain": [-0.45, 124.6], "nice": false, "zero": false}}, "x2": {"datum": 28.5}}},
  {"data": {"values": [{}]}, "mark": {"type": "rule", "color": "#8a8a8a", "strokeWidth": 1},
   "encoding": {"y": {"datum": 70, "type": "quantitative", "scale": {"domain": [17.6, 89.6], "nice": false, "zero": false}}}},
  {"data": {"name": "d"},
   "mark": {"type": "line", "color": "#f5913e", "strokeWidth": 1.2},
   "encoding": {
     "x": {"field": "i", "type": "quantitative", "scale": {"domain": [-0.45, 124.6], "nice": false, "zero": false},
           "axis": {"values": [-0.45, 15.6, 36.7, 57.8, 74.7, 95.9, 117.6, 124.6], "tickCount": 8,
             "labelExpr": "datum.value < 0 ? '2025/11' : datum.value < 20 ? '12' : datum.value < 40 ? '2026/01' : datum.value < 60 ? '02' : datum.value < 80 ? '03' : datum.value < 100 ? '04' : datum.value < 120 ? '05' : '05/07'",
             "grid": true, "gridColor": "#d4d4d4", "tickSize": 18, "tickColor": "#9a9a9a", "domain": false,
             "labelAlign": "left", "labelBaseline": "top", "labelPadding": -15,
             "labelOffset": {"condition": {"test": "datum.value > 120", "value": 9}, "value": 2},
             "labelFontSize": 10, "labelColor": "#555555", "labelFlush": false, "labelOverlap": false, "labelBound": false, "title": null}},
     "y": {"field": "r", "type": "quantitative", "scale": {"domain": [17.6, 89.6], "nice": false, "zero": false},
           "axis": {"orient": "right", "values": [50, 75], "labelExpr": "datum.value > 60 ? '75,00' : '50,00'", "grid": true, "gridColor": "#e0e0e0",
             "tickSize": 4, "tickColor": "#8a8a8a", "domainColor": "#8a8a8a", "labelColor": "#4a4a4a", "labelFontSize": 10.5, "labelPadding": 3, "labelOverlap": false, "title": null}}
   }},
  {"data": {"values": [{}]}, "mark": {"type": "text", "text": "▪", "align": "left", "baseline": "middle", "fontSize": 10, "color": "#8c8c8c"},
   "encoding": {"x": {"datum": -0.04, "type": "quantitative", "scale": {"domain": [-0.45, 124.6], "nice": false, "zero": false}},
     "y": {"datum": 78.6, "type": "quantitative", "scale": {"domain": [17.6, 89.6], "nice": false, "zero": false}}}},
  {"data": {"values": [{}]}, "mark": {"type": "text", "text": "RSI 14", "align": "left", "baseline": "middle", "fontSize": 10.5, "color": "#f08a3c"},
   "encoding": {"x": {"datum": 1.34, "type": "quantitative", "scale": {"domain": [-0.45, 124.6], "nice": false, "zero": false}},
     "y": {"datum": 78.6, "type": "quantitative", "scale": {"domain": [17.6, 89.6], "nice": false, "zero": false}}}}
 ]
}
]
}
